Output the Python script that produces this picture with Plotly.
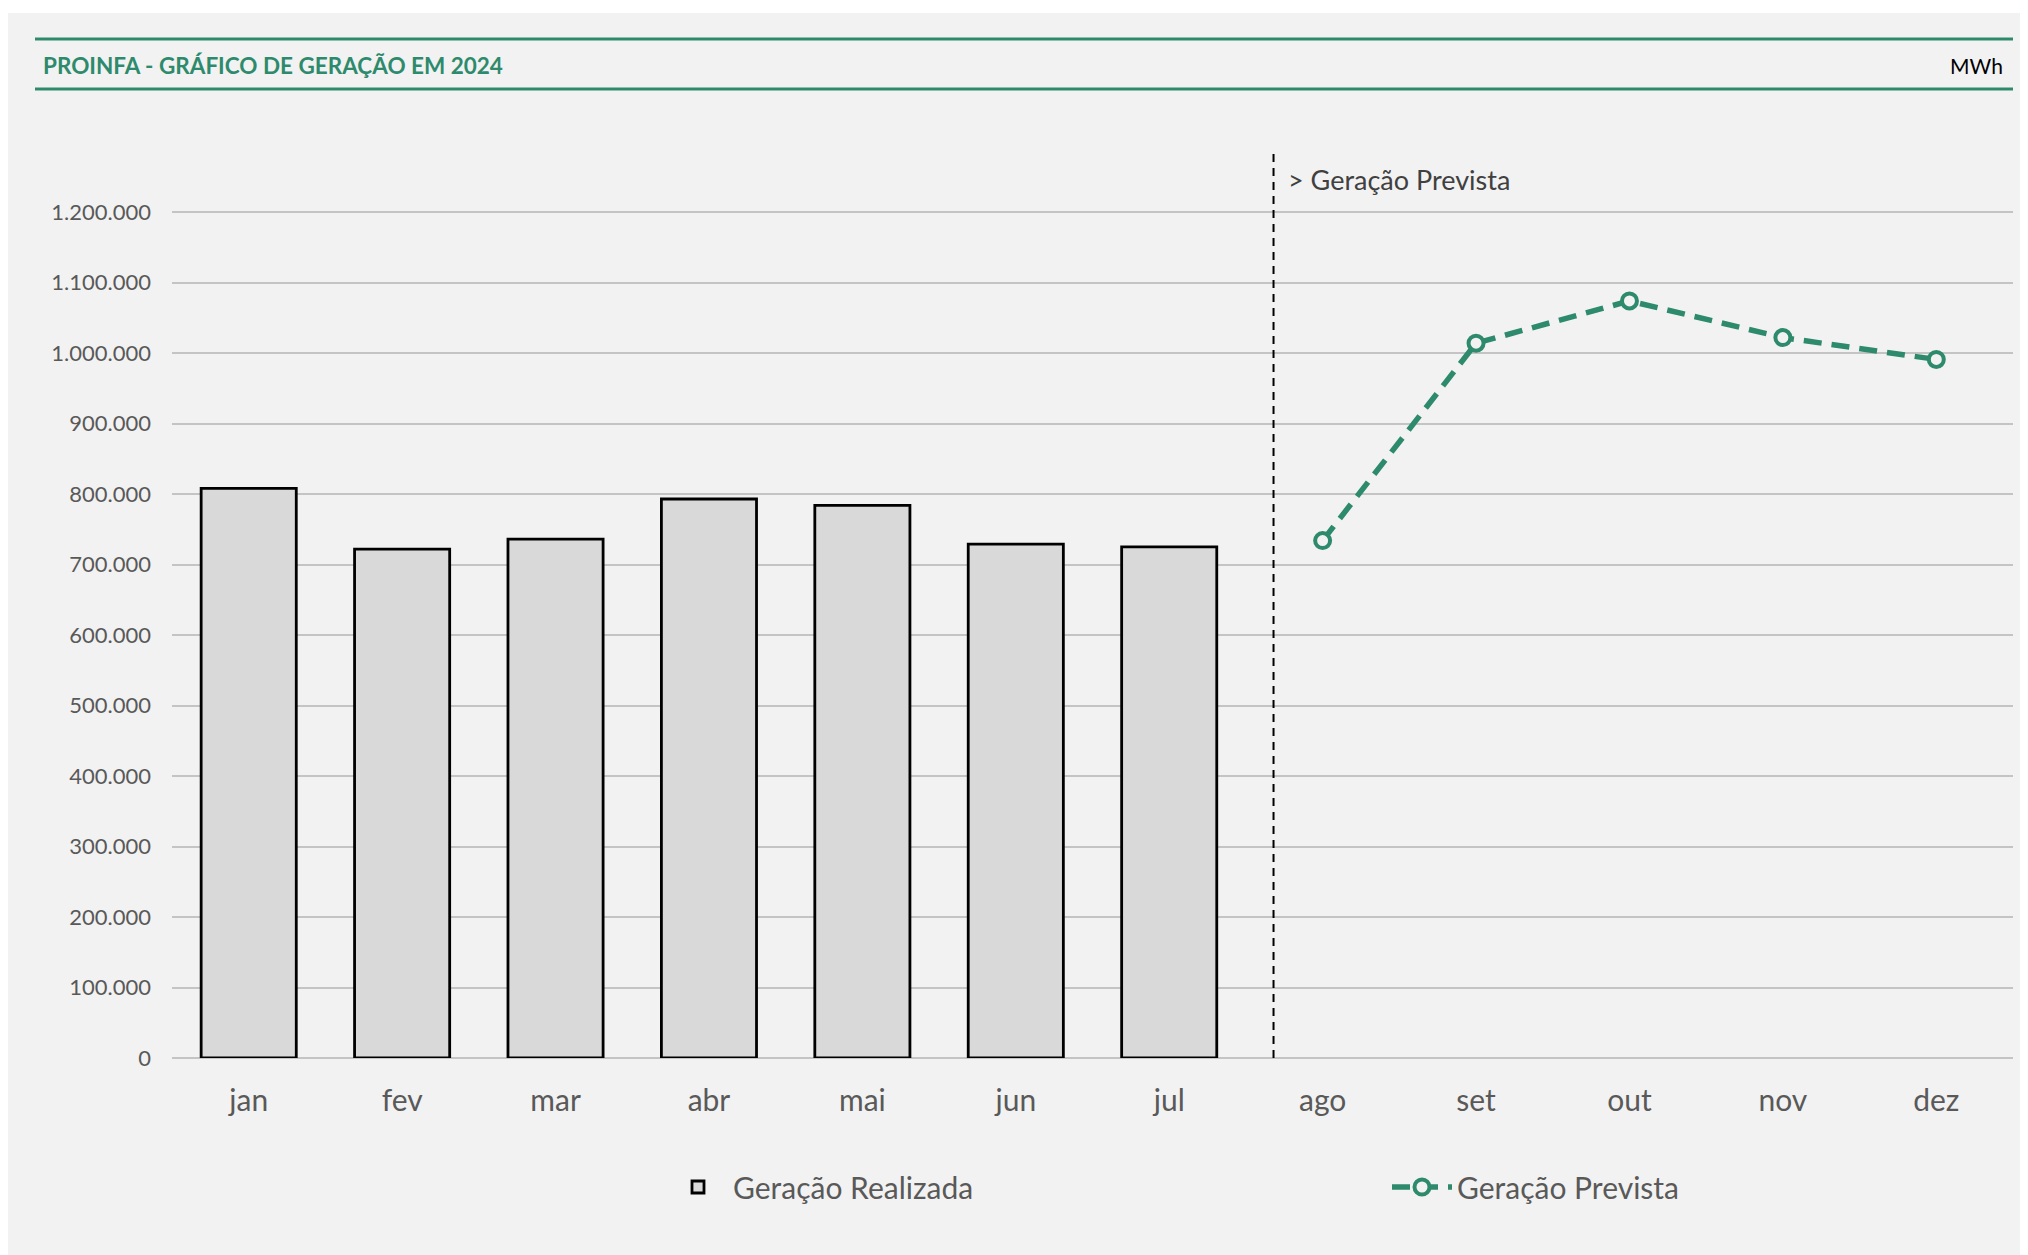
import plotly.graph_objects as go

# ---- data ----
months = ["jan", "fev", "mar", "abr", "mai", "jun", "jul", "ago", "set", "out", "nov", "dez"]
realizada_months = ["jan", "fev", "mar", "abr", "mai", "jun", "jul"]
realizada_values = [808000, 722000, 736000, 793000, 784000, 729000, 725000]
prevista_months = ["ago", "set", "out", "nov", "dez"]
prevista_values = [734000, 1014000, 1074000, 1022000, 991000]
y_tick_values = [0, 100000, 200000, 300000, 400000, 500000, 600000, 700000, 800000, 900000, 1000000, 1100000, 1200000]
forecast_marker_pos = 6.68  # position of the dashed "forecast" divider on the category axis

title_text = "PROINFA - GRÁFICO DE GERAÇÃO EM 2024"
unit_text = "MWh"
divider_text = "> Geração Prevista"

GREEN = "#2E8A6C"
FONT = "Lato, 'Open Sans', sans-serif"

OFF = 8  # default body margin of the html page
W, H = 2028 - OFF, 1255 - OFF
L = 172 - OFF
T = 210 - OFF
R = W - (2013 - OFF)
B = H - (1058 - OFF)
PW = W - L - R
PH = H - T - B


def px_x(p):
    """page x (reference pixels) -> paper x"""
    return (p - OFF - L) / PW


def px_y(p):
    """page y (reference pixels) -> paper y"""
    return (H - B - (p - OFF)) / PH


fig = go.Figure()

fig.add_trace(go.Bar(
    x=realizada_months,
    y=realizada_values,
    name="Geração Realizada",
    width=0.62,
    marker=dict(color="#D9D9D9", line=dict(color="#000000", width=2.8)),
))

fig.add_trace(go.Scatter(
    x=prevista_months,
    y=prevista_values,
    name="Geração Prevista",
    mode="lines+markers",
    line=dict(color=GREEN, width=5.5, dash="18px,10px"),
    marker=dict(symbol="circle", size=15, color="#F2F2F2", line=dict(color=GREEN, width=4)),
))

shapes = [
    # grey panel
    dict(type="rect", xref="paper", yref="paper", x0=px_x(8), x1=px_x(2040), y0=px_y(1270), y1=px_y(13),
         fillcolor="#F2F2F2", line=dict(width=0), layer="below"),
    # header lines
    dict(type="line", xref="paper", yref="paper", x0=px_x(35), x1=px_x(2013), y0=px_y(39), y1=px_y(39),
         line=dict(color=GREEN, width=3)),
    dict(type="line", xref="paper", yref="paper", x0=px_x(35), x1=px_x(2013), y0=px_y(89), y1=px_y(89),
         line=dict(color=GREEN, width=3)),
    # forecast divider
    dict(type="line", xref="x", yref="paper", x0=forecast_marker_pos, x1=forecast_marker_pos,
         y0=0, y1=px_y(153), line=dict(color="#000000", width=2, dash="8px,6px")),
]

annotations = [
    dict(text="<b>" + title_text + "</b>", xref="paper", yref="paper", x=px_x(41), y=px_y(65),
         xanchor="left", yanchor="middle", showarrow=False,
         font=dict(family=FONT, size=22.5, color=GREEN)),
    dict(text=unit_text, xref="paper", yref="paper", x=px_x(2005), y=px_y(65),
         xanchor="right", yanchor="middle", showarrow=False,
         font=dict(family=FONT, size=21, color="#000000")),
    dict(text=divider_text, xref="x", yref="paper", x=forecast_marker_pos, xshift=12, y=px_y(180),
         xanchor="left", yanchor="middle", showarrow=False,
         font=dict(family=FONT, size=27, color="#404040")),
]

fig.update_layout(
    width=W, height=H,
    margin=dict(l=L, r=R, t=T, b=B, pad=0, autoexpand=False),
    paper_bgcolor="#FFFFFF",
    plot_bgcolor="rgba(0,0,0,0)",
    separators=",.",
    font=dict(family=FONT, color="#595959"),
    shapes=shapes,
    annotations=annotations,
    showlegend=True,
    legend=dict(
        orientation="h", x=px_x(663), y=px_y(1187), xanchor="left", yanchor="middle",
        font=dict(family=FONT, size=30, color="#595959"),
        bgcolor="rgba(0,0,0,0)", itemwidth=60, entrywidth=649, traceorder="normal",
    ),
)

fig.update_xaxes(
    type="category", categoryorder="array", categoryarray=months,
    range=[-0.5, 11.5], showgrid=False, showline=False, zeroline=False,
    tickfont=dict(family=FONT, size=30, color="#595959"), ticks="", ticklabelstandoff=22,
)

fig.update_yaxes(
    range=[0, 1203000], tickvals=y_tick_values, tickformat=",d",
    showgrid=True, gridcolor="#C4C4C4", gridwidth=2,
    zeroline=True, zerolinecolor="#C4C4C4", zerolinewidth=2, showline=False,
    tickfont=dict(family=FONT, size=22, color="#595959"), ticks="", ticklabelstandoff=20,
)

fig.write_html("out.html")
